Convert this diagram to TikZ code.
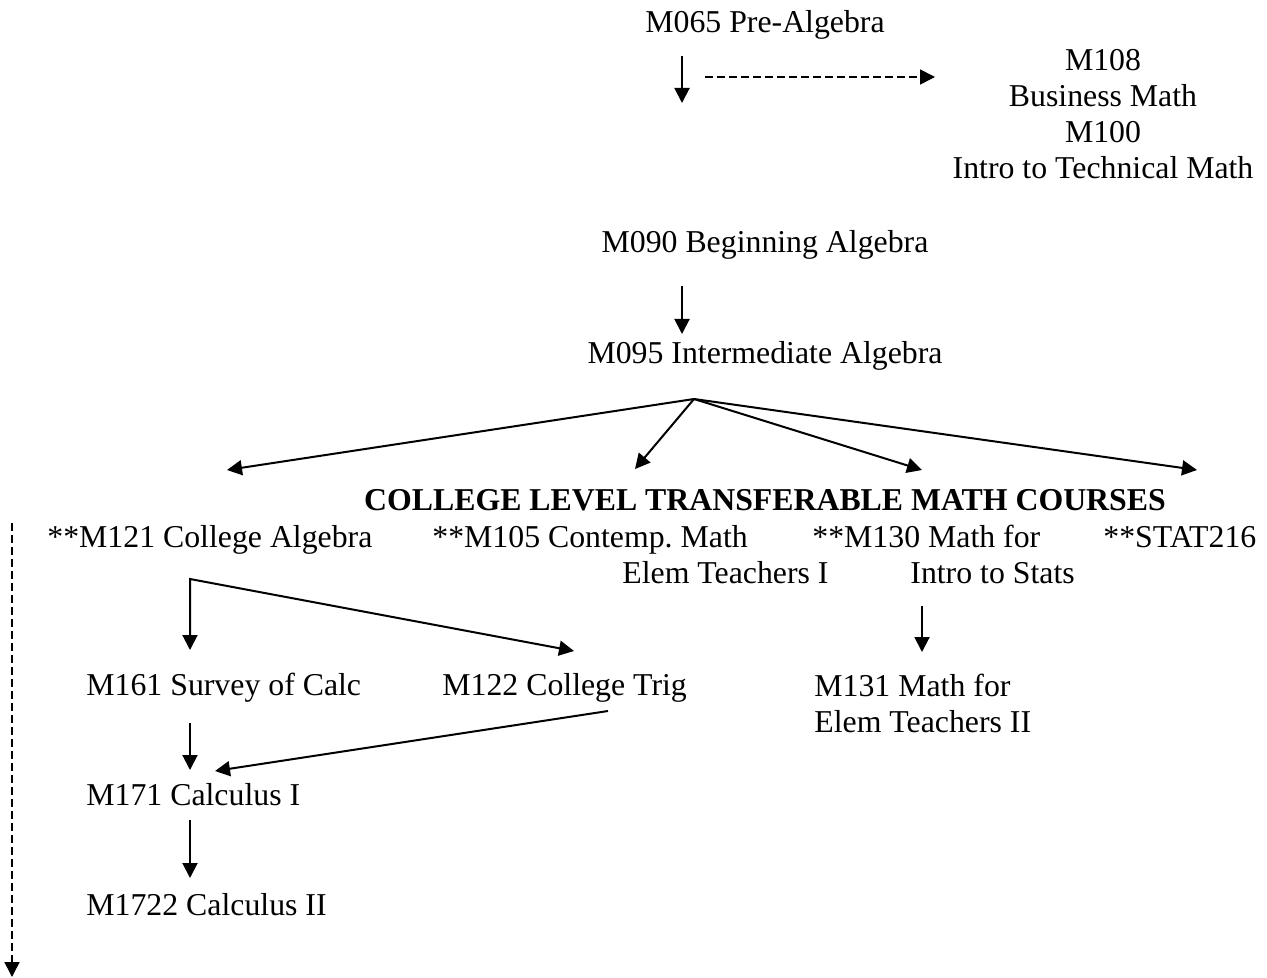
\documentclass[tikz,border=0pt]{standalone}
\usepackage{fontspec}
\setmainfont{Liberation Serif}
\usetikzlibrary{arrows.meta}

\newcommand{\coursefont}{\fontsize{15.9}{18}\selectfont}

\tikzset{
  course/.style={inner sep=0pt, anchor=base west, font=\coursefont},
  link/.style={line width=1pt, -{Triangle[length=7.5pt,width=7.5pt]}},
  fork/.style={line width=1pt, {Triangle[length=7.5pt,width=7.5pt]}-{Triangle[length=7.5pt,width=7.5pt]}},
  optional/.style={link, line width=0.8pt, dash pattern=on 4pt off 2pt}
}

\begin{document}
\begin{tikzpicture}[x=0.5pt,y=-0.5pt]
  \useasboundingbox (0,0) rectangle (1267,978);

  % developmental courses
  \node[course,anchor=base] (m065) at (765,33) {M065 Pre-Algebra};
  \node[course,anchor=north,align=center] (m108) at (1103,49)
    {M108\\Business Math\\M100\\Intro to Technical Math};
  \node[course,anchor=base] (m090) at (765,253) {M090 Beginning Algebra};
  \node[course,anchor=base] (m095) at (765,364) {M095 Intermediate Algebra};

  % transferable courses
  \node[course,anchor=base,font=\coursefont\bfseries] (title) at (765,510)
    {COLLEGE LEVEL TRANSFERABLE MATH COURSES};
  \node[course] (m121) at (47,547) {**M121 College Algebra};
  \node[course] (m105) at (432,547) {**M105 Contemp.\ Math};
  \node[course] (elem) at (622,583) {Elem Teachers I};
  \node[course] (m130) at (812,547) {**M130 Math for};
  \node[course] (stats) at (910,583) {Intro to Stats};
  \node[course] (stat216) at (1103,547) {**STAT216};
  \node[course] (m161) at (86,695) {M161 Survey of Calc};
  \node[course] (m122) at (442,695) {M122 College Trig};
  \node[course,anchor=north west,align=left] (m131) at (814,674)
    {M131 Math for\\Elem Teachers II};
  \node[course] (m171) at (86,805) {M171 Calculus I};
  \node[course] (m1722) at (86,915) {M1722 Calculus II};

  % free ends of the arrows
  \coordinate (drop) at (682,103);
  \coordinate (sidefrom) at (705,77);
  \coordinate (side) at (935,77);
  \coordinate (to095) at (682,334);
  \coordinate (hub) at (694,399);
  \coordinate (t121) at (227,470);
  \coordinate (t105) at (635,469);
  \coordinate (t130) at (922,470);
  \coordinate (t216) at (1197,470);
  \coordinate (split) at (190,579);
  \coordinate (to161) at (190,650);
  \coordinate (to122) at (574,651);
  \coordinate (to131) at (922,652);
  \coordinate (to171) at (190,770);
  \coordinate (from122) at (608,711);
  \coordinate (trig171) at (215,771);
  \coordinate (to1722) at (190,878);
  \coordinate (laterfrom) at (12,523);
  \coordinate (later) at (12,977);

  % arrows
  \draw[link,shorten <=8pt] (m065.south -| drop) -- (drop);
  \draw[optional] (sidefrom) -- (side);
  \draw[link,shorten <=13pt] (m090.south -| to095) -- (to095);
  \foreach \t in {t121,t105,t130,t216}
    \draw[link] (hub) -- (\t);
  \draw[fork] (to161) -- (split) -- (to122);
  \draw[link,shorten <=11pt] (stats.south -| to131) -- (to131);
  \draw[link,shorten <=10.5pt] (m161.south -| to171) -- (to171);
  \draw[link] (from122) -- (trig171);
  \draw[link,shorten <=7pt] (m171.south -| to1722) -- (to1722);
  \draw[optional] (laterfrom) -- (later);
\end{tikzpicture}
\end{document}
